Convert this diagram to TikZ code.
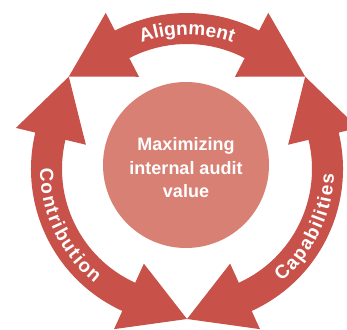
\documentclass[tikz,border=0pt]{standalone}
\usepackage{fontspec}
\setmainfont{Liberation Sans}
\usetikzlibrary{decorations.text}
\definecolor{bandred}{RGB}{200,82,74}
\definecolor{hubred}{RGB}{217,128,116}
\newcommand\arcfontstyle{\bfseries\fontsize{19}{19}\selectfont}
\begin{document}
\begin{tikzpicture}[
  band/.style={fill=bandred, draw=none},
  arclabel/.style={decorate, decoration={text along path, text align=center, text color=white, text={|\arcfontstyle|#1}}}
]
\useasboundingbox (-187pt,-160pt) rectangle (160pt,169pt);
\clip (-187pt,-160pt) rectangle (160pt,169pt);
% Alignment (top)
\fill[band] (142:150pt) -- (117.5:176pt) -- (117.5:156pt)
  arc[start angle=117.5, end angle=62.5, radius=156pt] -- (62.5:176pt) -- (38:150pt)
  -- (62.5:104pt) -- (62.5:125pt) arc[start angle=62.5, end angle=117.5, radius=125pt]
  -- (117.5:104pt) -- cycle;
% Capabilities (right)
\fill[band] (38:150pt) -- (13.5:176pt) -- (13.5:156pt)
  arc[start angle=13.5, end angle=-65.5, radius=156pt] -- (-65.5:176pt) -- (-90:150pt)
  -- (-65.5:104pt) -- (-65.5:125pt) arc[start angle=-65.5, end angle=13.5, radius=125pt]
  -- (13.5:104pt) -- cycle;
% Contribution (left)
\fill[band] (270:150pt) -- (245.5:176pt) -- (245.5:156pt)
  arc[start angle=245.5, end angle=166.5, radius=156pt] -- (166.5:176pt) -- (142:150pt)
  -- (166.5:104pt) -- (166.5:125pt) arc[start angle=166.5, end angle=245.5, radius=125pt]
  -- (245.5:104pt) -- cycle;
% labels along the arcs
\path[arclabel=Alignment] (125:134pt) arc[start angle=125, end angle=55, radius=134pt];
\path[arclabel={{C\kern1.6pt}{o\kern1.6pt}{n\kern1.6pt}{t\kern1.6pt}{r\kern1.6pt}{i\kern1.6pt}{b\kern1.6pt}{u\kern1.6pt}{t\kern1.6pt}{i\kern1.6pt}{o\kern1.6pt}n}]
  (160:147pt) arc[start angle=160, end angle=251, radius=147pt];
\path[arclabel={{C\kern1.5pt}{a\kern1.5pt}{p\kern1.5pt}{a\kern1.5pt}{b\kern1.5pt}{i\kern1.5pt}{l\kern1.5pt}{i\kern1.5pt}{t\kern1.5pt}{i\kern1.5pt}{e\kern1.5pt}s}]
  (-71:147pt) arc[start angle=-71, end angle=19, radius=147pt];
% hub
\node[circle, fill=hubred, minimum size=166pt, inner sep=0pt] (hub) at (-1pt,4pt) {};
\node[text=white, font=\bfseries\fontsize{18}{23.5}\selectfont, align=center] (hublabel) at (-1pt,1pt) {Maximizing\\internal audit\\value};
\end{tikzpicture}
\end{document}
